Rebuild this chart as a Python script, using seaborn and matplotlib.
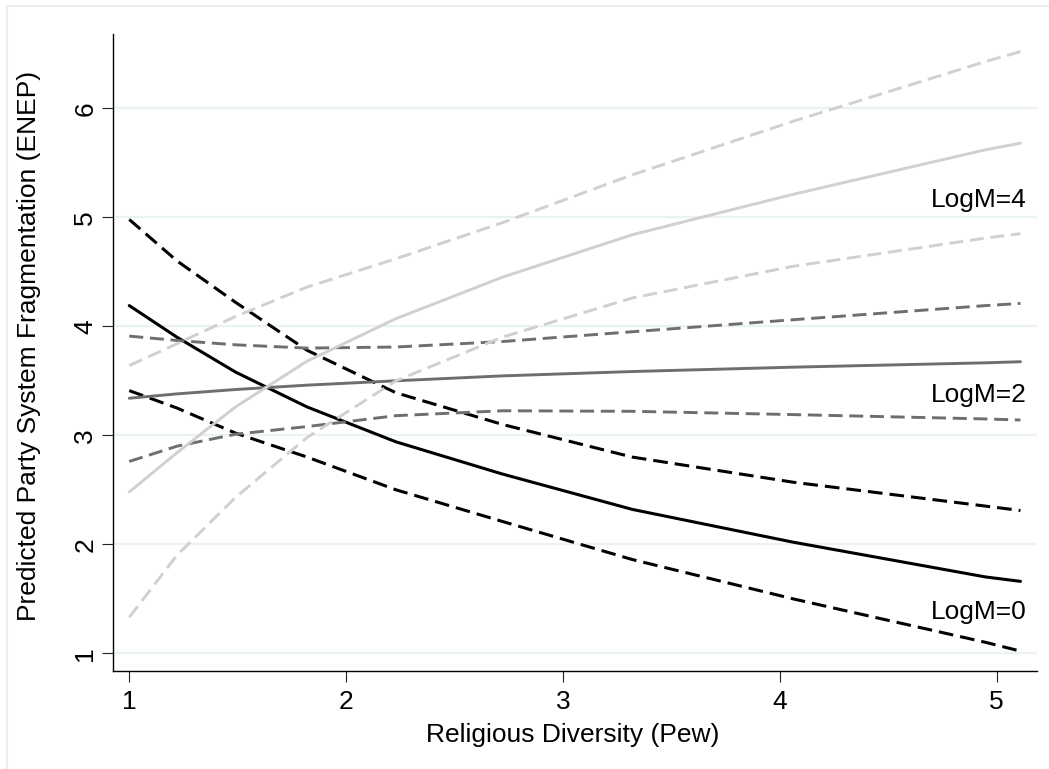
import numpy as np
import pandas as pd
import matplotlib
matplotlib.use("Agg")
import matplotlib.pyplot as plt
import seaborn as sns
from matplotlib.lines import Line2D

# x values where margins were computed
pew = [1.0, 1.22, 1.49, 1.82, 2.23, 2.72, 3.32, 4.06, 4.95, 5.11]

# LogM = 0
m0_fit = [4.19, 3.90, 3.58, 3.26, 2.94, 2.645, 2.32, 2.02, 1.70, 1.66]
m0_hi = [4.98, 4.60, 4.22, 3.78, 3.39, 3.10, 2.80, 2.57, 2.35, 2.31]
m0_lo = [3.41, 3.25, 3.02, 2.80, 2.50, 2.21, 1.86, 1.50, 1.10, 1.02]
# LogM = 2
m2_fit = [3.34, 3.38, 3.42, 3.46, 3.50, 3.545, 3.585, 3.625, 3.665, 3.675]
m2_hi = [3.91, 3.87, 3.83, 3.80, 3.81, 3.86, 3.95, 4.06, 4.19, 4.21]
m2_lo = [2.76, 2.90, 3.01, 3.08, 3.18, 3.225, 3.22, 3.19, 3.15, 3.14]
# LogM = 4
m4_fit = [2.48, 2.84, 3.26, 3.68, 4.07, 4.45, 4.84, 5.21, 5.62, 5.68]
m4_hi = [3.64, 3.84, 4.09, 4.36, 4.62, 4.95, 5.39, 5.88, 6.43, 6.52]
m4_lo = [1.33, 1.90, 2.43, 2.98, 3.50, 3.90, 4.26, 4.55, 4.81, 4.85]

labels = ["LogM=0", "LogM=2", "LogM=4"]
label_y = [1.38, 3.37, 5.16]

series = {
    "m0_fit": m0_fit, "m0_hi": m0_hi, "m0_lo": m0_lo,
    "m2_fit": m2_fit, "m2_hi": m2_hi, "m2_lo": m2_lo,
    "m4_fit": m4_fit, "m4_hi": m4_hi, "m4_lo": m4_lo,
}
rows = []
for name, vals in series.items():
    for x, y in zip(pew, vals):
        rows.append({"pew": x, "enep": y, "series": name})
df = pd.DataFrame(rows)

sns.set_theme(style="white")
plt.rcParams['font.family'] = ['Liberation Sans', 'DejaVu Sans']
plt.rcParams['text.color'] = 'black'
plt.rcParams['axes.labelcolor'] = 'black'
plt.rcParams['xtick.color'] = 'black'
plt.rcParams['ytick.color'] = 'black'

fig = plt.figure(figsize=(10.49, 7.69), dpi=100)
ax = fig.add_axes([0.1074, 0.1278, 0.8809, 0.8276])

colors = {"m0": "#000000", "m2": "#6e6e6e", "m4": "#d0d0d0"}
widths = {"m0": 2.2, "m2": 2.1, "m4": 2.1}

for g in ["m0", "m2", "m4"]:
    for part in ["fit", "hi", "lo"]:
        sub = df[df.series == g + "_" + part]
        ls = "-" if part == "fit" else (0, (4.8, 2.3))
        sns.lineplot(data=sub, x="pew", y="enep", color=colors[g], linewidth=widths[g],
                     linestyle=ls, errorbar=None, ax=ax, legend=False)

for lab, ly in zip(labels, label_y):
    ax.text(5.14, ly, lab, ha="right", va="center", fontsize=19, color="black")

ax.set_xlim(0.9234, 5.185)
ax.set_ylim(0.84, 6.679)
ax.set_xticks([1, 2, 3, 4, 5])
ax.set_yticks([1, 2, 3, 4, 5, 6])
ax.grid(axis="y", color="#eaf2f3", linewidth=1.6)
ax.set_axisbelow(True)
for s in ["top", "right"]:
    ax.spines[s].set_visible(False)
for s in ["left", "bottom"]:
    ax.spines[s].set_color("black")
    ax.spines[s].set_linewidth(1.0)
ax.tick_params(axis="both", direction="out", length=8, width=0.8, color="#222222",
               labelsize=19, bottom=True, left=True)
ax.tick_params(axis="y", pad=3)
ax.tick_params(axis="x", pad=6)
for t in ax.get_yticklabels():
    t.set_rotation(90)
    t.set_va("center")

ax.set_xlabel("Religious Diversity (Pew)", fontsize=19)
ax.set_ylabel("Predicted Party System Fragmentation (ENEP)", fontsize=19)
ax.xaxis.set_label_coords(0.498, -0.082)
ax.yaxis.set_label_coords(-0.078, 0.51)

# faint outer frame
fig.add_artist(Line2D([7 / 1049, 1.0], [1 - 6 / 769, 1 - 6 / 769], color="#e8eff0", lw=1.5,
                      transform=fig.transFigure))
fig.add_artist(Line2D([7 / 1049, 7 / 1049], [0.0, 1 - 6 / 769], color="#e8eff0", lw=1.5,
                      transform=fig.transFigure))

fig.savefig("out.png", dpi=100)
